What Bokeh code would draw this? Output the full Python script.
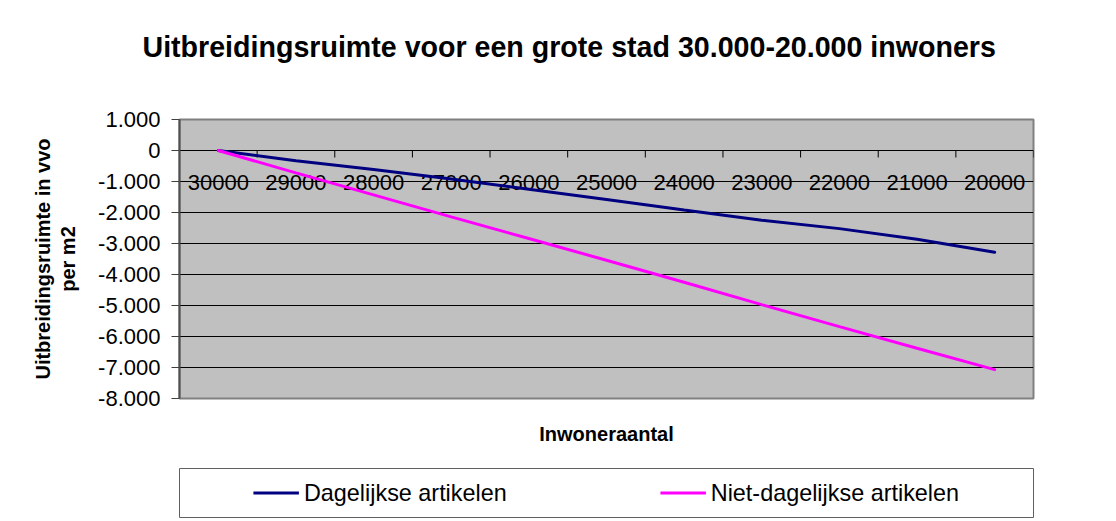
import math
from bokeh.plotting import figure
from bokeh.layouts import column
from bokeh.models import Range1d, LinearAxis, FixedTicker, Legend, LegendItem
from bokeh.core.properties import value
from bokeh.embed import file_html
from bokeh.resources import INLINE

# ---- data ----
inwoners = ["30000", "29000", "28000", "27000", "26000", "25000",
            "24000", "23000", "22000", "21000", "20000"]
dagelijks = [0, -330, -610, -920, -1250, -1580, -1920, -2250, -2520, -2860, -3280]
niet_dagelijks = [0, -720, -1430, -2140, -2840, -3540, -4250, -4970, -5680, -6380, -7070]

y_ticks = [1000, 0, -1000, -2000, -3000, -4000, -5000, -6000, -7000, -8000]
y_tick_labels = ["1.000", "0", "-1.000", "-2.000", "-3.000", "-4.000",
                 "-5.000", "-6.000", "-7.000", "-8.000"]

title_text = "Uitbreidingsruimte voor een grote stad 30.000-20.000 inwoners"
x_title = "Inwoneraantal"
y_title = "Uitbreidingsruimte in vvo\nper m2"
series_names = ["Dagelijkse artikelen", "Niet-dagelijkse artikelen"]
series_colors = ["#000080", "#ff00ff"]

FONT = "Liberation Sans"

# category slots: category i is centred at i + 0.5
n = len(inwoners)
x_pos = [i + 0.5 for i in range(n)]
edges = list(range(n + 1))

p = figure(width=1116, height=460,
           x_range=Range1d(0, n),
           y_range=Range1d(-8000, 1000),
           output_backend="svg", toolbar_location=None,
           min_border_left=179, min_border_right=83,
           min_border_top=119, min_border_bottom=62,
           background_fill_color="#c0c0c0", border_fill_color="white")

# x axis (below): only carries the axis title
xa = p.below[0]
xa.ticker = FixedTicker(ticks=x_pos)
xa.axis_line_color = None
xa.major_tick_line_color = None
xa.minor_tick_line_color = None
xa.major_tick_out = 0
xa.major_tick_in = 0
xa.major_label_text_font_size = "1px"
xa.major_label_text_alpha = 0
xa.major_label_standoff = 0
xa.axis_label = x_title
xa.axis_label_text_font = FONT
xa.axis_label_text_font_size = "20px"
xa.axis_label_text_font_style = "bold"
xa.axis_label_text_color = "black"
xa.axis_label_standoff = 24

# title, pushed up by an invisible spacer axis
p.title.text = title_text
p.title.text_font = FONT
p.title.text_font_size = "28.6px"
p.title.text_font_style = "bold"
p.title.text_color = "black"
p.title.align = "left"
p.title.offset = -37
p.title.standoff = 10
p.add_layout(LinearAxis(ticker=FixedTicker(ticks=x_pos), major_tick_out=52, major_tick_in=0,
                        major_tick_line_color=None, minor_tick_line_color=None,
                        axis_line_color=None, major_label_text_font_size="1px",
                        major_label_text_alpha=0, major_label_standoff=0), "above")

# frame outline
p.outline_line_color = "#808080"
p.outline_line_width = 2

# y axis
yax = p.left[0]
yax.ticker = FixedTicker(ticks=y_ticks)
yax.major_label_overrides = dict(zip(y_ticks, y_tick_labels))
yax.major_label_text_font = FONT
yax.major_label_text_font_size = "22px"
yax.major_label_text_color = "black"
yax.major_label_standoff = 11
yax.major_tick_out = 8
yax.major_tick_in = 0
yax.major_tick_line_color = "#404040"
yax.minor_tick_line_color = None
yax.axis_line_color = "#505050"
yax.axis_line_width = 2
yax.axis_label = y_title
yax.axis_label_text_font = FONT
yax.axis_label_text_font_size = "20px"
yax.axis_label_text_font_style = "bold"
yax.axis_label_text_color = "black"
yax.axis_label_standoff = 16
yax.axis_label_text_align = "center"
yax.axis_label_text_line_height = 1.15

p.ygrid.grid_line_color = "black"
p.ygrid.grid_line_width = 1
p.xgrid.grid_line_color = None

# category labels hanging from the zero line, ticks on category boundaries
p.text(x=x_pos, y=[0] * n, text=inwoners, y_offset=24,
       text_font=value(FONT), text_font_size="22px", text_color="black",
       text_align="center", text_baseline="top")
p.ray(x=edges, y=[0] * len(edges), length=7, length_units="screen",
      angle=-math.pi / 2, line_color="black", line_width=1)

# series
p.line(x_pos, dagelijks, line_color=series_colors[0], line_width=3, line_cap="round")
p.line(x_pos, niet_dagelijks, line_color=series_colors[1], line_width=3, line_cap="round")

# legend strip: a small plot whose frame outline is the legend box
lg = figure(width=1116, height=61, x_range=Range1d(0, 1), y_range=Range1d(0, 1),
            x_axis_location=None, y_axis_location=None,
            output_backend="svg", toolbar_location=None,
            min_border_left=179, min_border_right=81,
            min_border_top=8, min_border_bottom=4,
            background_fill_color="white", border_fill_color="white")
lg.outline_line_color = "#606060"
lg.outline_line_width = 1
lg.xgrid.grid_line_color = None
lg.ygrid.grid_line_color = None
lr = [lg.line([-2, -1], [-2, -1], line_color=c, line_width=3) for c in series_colors]
legend = Legend(items=[LegendItem(label=series_names[i], renderers=[lr[i]]) for i in range(2)],
                orientation="horizontal", location="center",
                border_line_color=None, background_fill_alpha=0,
                label_text_font=FONT, label_text_font_size="23.4px", label_text_color="black",
                glyph_width=46, glyph_height=20, label_standoff=5,
                spacing=153, padding=0, margin=0)
lg.add_layout(legend)

layout = column(p, lg, spacing=0)
open("out.html", "w").write(file_html(layout, INLINE))
